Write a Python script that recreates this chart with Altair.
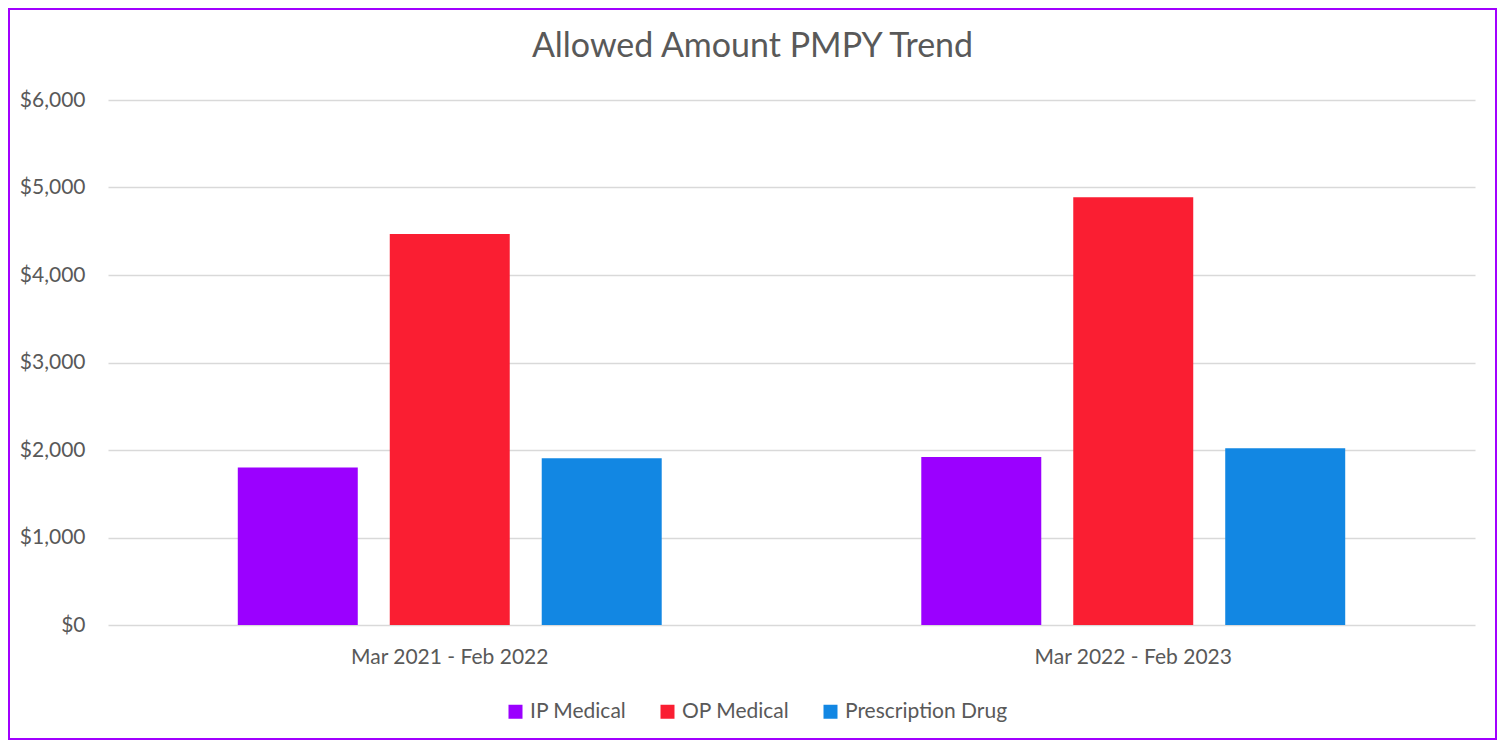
import altair as alt
import pandas as pd

periods = ["Mar 2021 - Feb 2022", "Mar 2022 - Feb 2023"]
categories = ["IP Medical", "OP Medical", "Prescription Drug"]
values_p1 = [1800, 4470, 1905]
values_p2 = [1920, 4890, 2020]
colors = ["#9B00FF", "#FA1E32", "#1287E3"]

rows = []
for p, vals in zip(periods, [values_p1, values_p2]):
    for c, v in zip(categories, vals):
        rows.append({"period": p, "category": c, "value": v})
df = pd.DataFrame(rows)

FONT = "Lato"
TXT = "#595959"

bars = alt.Chart(df).mark_bar().encode(
    x=alt.X("period:N", sort=periods, title=None,
            scale=alt.Scale(paddingInner=0, paddingOuter=0),
            axis=alt.Axis(labelAngle=0, labelFontSize=21, labelColor=TXT, labelFont=FONT,
                          ticks=False, domain=False, labelPadding=21, grid=False, labelLimit=0)),
    xOffset=alt.XOffset("category:N", sort=categories,
                        scale=alt.Scale(paddingInner=0.2105, paddingOuter=0.854)),
    y=alt.Y("value:Q", title=None,
            scale=alt.Scale(domain=[0, 6000]),
            axis=alt.Axis(values=[0, 1000, 2000, 3000, 4000, 5000, 6000], format="$,.0f",
                          labelFontSize=21, labelColor=TXT, labelFont=FONT, ticks=False,
                          domain=False, labelPadding=23, gridColor="#D9D9D9", gridWidth=1.5)),
    color=alt.Color("category:N", sort=categories,
                    scale=alt.Scale(domain=categories, range=colors),
                    legend=alt.Legend(title=None, orient="none", legendX=397, legendY=601,
                                      direction="horizontal", symbolType="square",
                                      symbolSize=196, symbolStrokeWidth=0,
                                      labelFontSize=21, labelColor=TXT, labelFont=FONT,
                                      columnPadding=30, labelOffset=4, labelLimit=0)),
)

frame = alt.Chart(pd.DataFrame({"k": [0]})).mark_rect(
    fill=None, stroke="#A100FF", strokeWidth=2, clip=False
).encode(x=alt.value(-99), x2=alt.value(1388), y=alt.value(-91), y2=alt.value(639))

chart = alt.layer(bars, frame).properties(
    width=1367, height=525,
    background="white",
    autosize=alt.AutoSizeParams(type="none"),
    padding={"left": 100, "top": 92, "right": 23, "bottom": 116},
    title=alt.TitleParams("Allowed Amount PMPY Trend", fontSize=34, font=FONT, color=TXT,
                          fontWeight="normal", anchor="middle", frame="group",
                          dx=-39, offset=0, dy=56),
).configure_view(stroke="transparent", strokeWidth=0)

chart.save("out.html", embed_options={"renderer": "svg", "actions": False})
